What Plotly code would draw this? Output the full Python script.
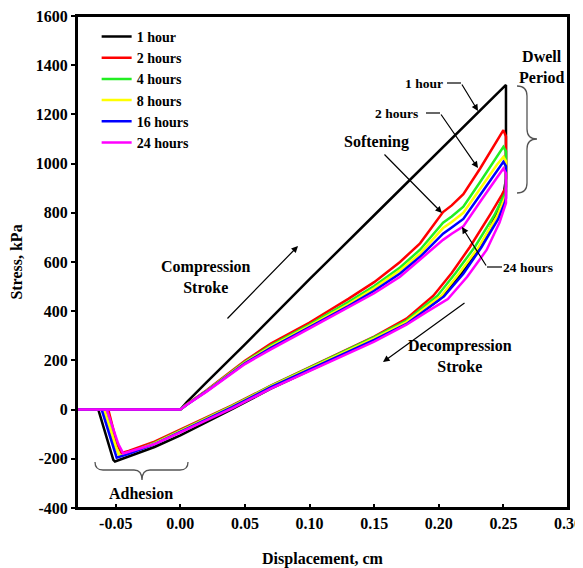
import plotly.graph_objects as go

# ---------------- data ----------------
series_names = ["1 hour", "2 hours", "4 hours", "8 hours", "16 hours", "24 hours"]
series_colors = ["#000000", "#ff0000", "#22ee22", "#ffff00", "#0000ff", "#ff00ff"]

# 1 hour (full loop)
disp_1h = [-0.08, 0.0, 0.005, 0.02, 0.05, 0.10, 0.15, 0.20, 0.25, 0.252, 0.252,
           0.25, 0.245, 0.24, 0.23, 0.22, 0.21, 0.20, 0.175, 0.15, 0.12, 0.10, 0.07,
           0.04, 0.0, -0.02, -0.04, -0.0506, -0.0519, -0.0635, -0.08]
stress_1h = [0, 0, 30, 110, 265, 530, 790, 1050, 1310, 1320, 940,
             870, 800, 740, 645, 570, 505, 445, 355, 283, 208, 158, 85,
             2, -105, -152, -190, -211, -204, 0, 0]

# compression (loading) branch displacement shared by 2-24 h
disp_load = [-0.08, 0.0, 0.005, 0.02, 0.05, 0.07, 0.10, 0.13, 0.15, 0.17, 0.1855,
             0.2033, 0.21, 0.219, 0.232, 0.245, 0.25, 0.252, 0.252]
stress_load_2h = [0, 0, 22, 78, 198, 268, 354, 450, 518, 600, 676, 803, 830, 876, 980, 1090, 1136, 1110, 905]
stress_load_4h = [0, 0, 21, 76, 194, 261, 346, 437, 502, 578, 650, 760, 785, 825, 925, 1025, 1068, 1050, 885]
stress_load_8h = [0, 0, 21, 75, 191, 256, 340, 428, 493, 566, 634, 738, 763, 800, 898, 995, 1027, 1010, 870]
stress_load_16h = [0, 0, 20, 74, 188, 251, 335, 421, 483, 553, 621, 715, 740, 775, 872, 970, 1007, 990, 860]
stress_load_24h = [0, 0, 20, 72, 185, 245, 330, 415, 473, 540, 608, 690, 715, 745, 845, 945, 980, 960, 840]

# decompression (unloading) branches
disp_unload_2h = [0.2487, 0.24, 0.2242, 0.21, 0.1958, 0.175, 0.15, 0.12, 0.10, 0.07, 0.04, 0.02, 0.0,
                  -0.02, -0.04, -0.0455, -0.049, -0.0558, -0.08]
stress_unload_2h = [872, 795, 662, 555, 463, 370, 297, 222, 172, 97, 17, -33, -83,
                    -130, -168, -176, -140, 0, 0]
disp_unload_4h = [0.249, 0.243, 0.228, 0.213, 0.199, 0.175, 0.15, 0.12, 0.10, 0.07, 0.04, 0.02, 0.0,
                  -0.02, -0.04, -0.047, -0.050, -0.0586, -0.08]
stress_unload_4h = [855, 790, 662, 555, 463, 362, 295, 220, 170, 96, 15, -35, -86,
                    -135, -175, -190, -150, 0, 0]
disp_unload_8h = [0.25, 0.245, 0.231, 0.216, 0.202, 0.175, 0.15, 0.12, 0.10, 0.07, 0.04, 0.02, 0.0,
                  -0.02, -0.04, -0.047, -0.050, -0.059, -0.08]
stress_unload_8h = [845, 785, 662, 555, 463, 356, 290, 216, 167, 94, 13, -37, -88,
                    -137, -177, -190, -150, 0, 0]
disp_unload_16h = [0.251, 0.246, 0.233, 0.219, 0.204, 0.175, 0.15, 0.12, 0.10, 0.07, 0.04, 0.02, 0.0,
                   -0.02, -0.04, -0.0493, -0.052, -0.0609, -0.08]
stress_unload_16h = [840, 775, 660, 552, 460, 348, 283, 211, 163, 91, 10, -40, -90,
                     -140, -180, -195, -150, 0, 0]
disp_unload_24h = [0.247, 0.237, 0.222, 0.207, 0.19, 0.175, 0.15, 0.12, 0.10, 0.07, 0.04, 0.02, 0.0,
                   -0.02, -0.04, -0.0442, -0.048, -0.057, -0.08]
stress_unload_24h = [760, 649, 540, 449, 395, 345, 276, 205, 155, 85, 5, -45, -93,
                     -140, -172, -178, -140, 0, 0]

x_tick_vals = [-0.05, 0.0, 0.05, 0.10, 0.15, 0.20, 0.25, 0.30]
x_tick_text = ["-0.05", "0.00", "0.05", "0.10", "0.15", "0.20", "0.25", "0.30"]
y_tick_vals = [-400, -200, 0, 200, 400, 600, 800, 1000, 1200, 1400, 1600]
y_tick_text = ["-400", "-200", "0", "200", "400", "600", "800", "1000", "1200", "1400", "1600"]

# ---------------- figure ----------------
FONT = "Liberation Serif"
OFF = 8                      # page body margin of the html page
PAGE_W, PAGE_H = 583, 568
W, H = PAGE_W - OFF, PAGE_H - OFF
# plot area in page pixels: x 77..568, y 16..508
ML, MR, MT, MB = 77 - OFF, PAGE_W - 568, 16 - OFF, PAGE_H - 508
XR = (-0.08, 0.30)
YR = (-400, 1600)
PLOT_W = 568 - 77
PLOT_H = 508 - 16


def P(px, py):
    """page pixel position -> data coordinates (for decorations only)"""
    x = XR[0] + (px - 77) / PLOT_W * (XR[1] - XR[0])
    y = YR[1] - (py - 16) / PLOT_H * (YR[1] - YR[0])
    return x, y


loops = [
    (disp_1h, stress_1h),
    (disp_load + disp_unload_2h, stress_load_2h + stress_unload_2h),
    (disp_load + disp_unload_4h, stress_load_4h + stress_unload_4h),
    (disp_load + disp_unload_8h, stress_load_8h + stress_unload_8h),
    (disp_load + disp_unload_16h, stress_load_16h + stress_unload_16h),
    (disp_load + disp_unload_24h, stress_load_24h + stress_unload_24h),
]

fig = go.Figure()
for name, color, (xs, ys) in zip(series_names, series_colors, loops):
    fig.add_trace(go.Scatter(x=xs, y=ys, mode="lines", name=name,
                             line=dict(color=color, width=2.5)))

annotations = []
shapes = []


def text(px, py, t, size=16):
    x, y = P(px, py)
    annotations.append(dict(x=x, y=y, xref="x", yref="y", text=t, showarrow=False,
                            font=dict(family=FONT, size=size, color="black", weight="bold"),
                            xanchor="center", yanchor="middle"))


def arrow(p0, p1):
    x0, y0 = P(*p0)
    x1, y1 = P(*p1)
    annotations.append(dict(x=x1, y=y1, ax=x0, ay=y0, xref="x", yref="y", axref="x", ayref="y",
                            text="", showarrow=True, arrowhead=2, arrowsize=1.1,
                            arrowwidth=1.2, arrowcolor="black", standoff=0))


def seg(p0, p1):
    x0, y0 = P(*p0)
    x1, y1 = P(*p1)
    shapes.append(dict(type="line", xref="x", yref="y", x0=x0, y0=y0, x1=x1, y1=y1,
                       line=dict(color="black", width=1.2)))


def brace(points_cmds, color="#555555"):
    parts = []
    for cmd, pts in points_cmds:
        coords = []
        for (px, py) in pts:
            x, y = P(px, py)
            coords.append(f"{x:.6f},{y:.4f}")
        parts.append(cmd + " " + " ".join(coords))
    shapes.append(dict(type="path", xref="x", yref="y", path=" ".join(parts),
                       line=dict(color=color, width=1.3)))


# plot frame
shapes.append(dict(type="rect", xref="paper", yref="paper", x0=0, y0=0, x1=1, y1=1,
                   line=dict(color="black", width=2), fillcolor="rgba(0,0,0,0)", layer="above"))

# Dwell period
text(541, 67, "Dwell<br>Period")
brace([("M", [(517, 86)]), ("Q", [(527, 86), (527, 96)]), ("L", [(527, 129)]),
       ("Q", [(527, 139), (537, 139)]), ("Q", [(527, 139), (527, 149)]),
       ("L", [(527, 183)]), ("Q", [(527, 193), (517, 193)])])

# 1 hour leader
text(424, 83, "1 hour", 13.5)
seg((447, 83), (461, 83))
arrow((461, 83), (478, 111))

# 2 hours leader
text(396, 113, "2 hours", 13.5)
seg((426, 113), (440, 113))
arrow((440, 113), (478, 168))

# Softening
text(376, 142, "Softening")
arrow((383, 153), (442, 213))

# 24 hours
text(528, 267, "24 hours", 13.5)
seg((502, 267), (487, 267))
arrow((487, 267), (462, 227))

# Compression stroke
text(206, 277, "Compression<br>Stroke")
arrow((226, 320), (298, 246))

# Decompression stroke
text(460, 356, "Decompression<br>Stroke")
arrow((466, 302), (383, 362))

# Adhesion
text(141, 493, "Adhesion")
brace([("M", [(95, 462)]), ("Q", [(95, 470), (103, 470)]), ("L", [(134, 470)]),
       ("Q", [(142, 470), (142, 480)]), ("Q", [(142, 470), (150, 470)]),
       ("L", [(180, 470)]), ("Q", [(188, 470), (188, 462)])])

axis_common = dict(showline=True, linecolor="black", linewidth=2, mirror=True,
                   showgrid=False, zeroline=False, ticklen=4, tickwidth=1.5,
                   tickcolor="black", automargin=False, ticklabeloverflow="allow",
                   tickfont=dict(family=FONT, size=16, color="black", weight="bold"))

fig.update_layout(
    width=W, height=H,
    margin=dict(l=ML, r=MR, t=MT, b=MB),
    paper_bgcolor="white", plot_bgcolor="white",
    font=dict(family=FONT, size=16, color="black", weight="bold"),
    showlegend=True,
    legend=dict(x=0.04, y=0.99, xanchor="left", yanchor="top",
                bgcolor="rgba(0,0,0,0)", borderwidth=0,
                font=dict(family=FONT, size=14, color="black", weight="bold")),
    xaxis=dict(range=list(XR), tickvals=x_tick_vals, ticktext=x_tick_text,
               ticks="inside",
               title=dict(text="Displacement, cm", standoff=22,
                          font=dict(family=FONT, size=16, color="black", weight="bold")),
               **axis_common),
    yaxis=dict(range=list(YR), tickvals=y_tick_vals, ticktext=y_tick_text,
               ticks="outside",
               title=dict(text="Stress, kPa", standoff=13,
                          font=dict(family=FONT, size=16, color="black", weight="bold")),
               **axis_common),
    annotations=annotations,
    shapes=shapes,
)

fig.write_html("out.html")
